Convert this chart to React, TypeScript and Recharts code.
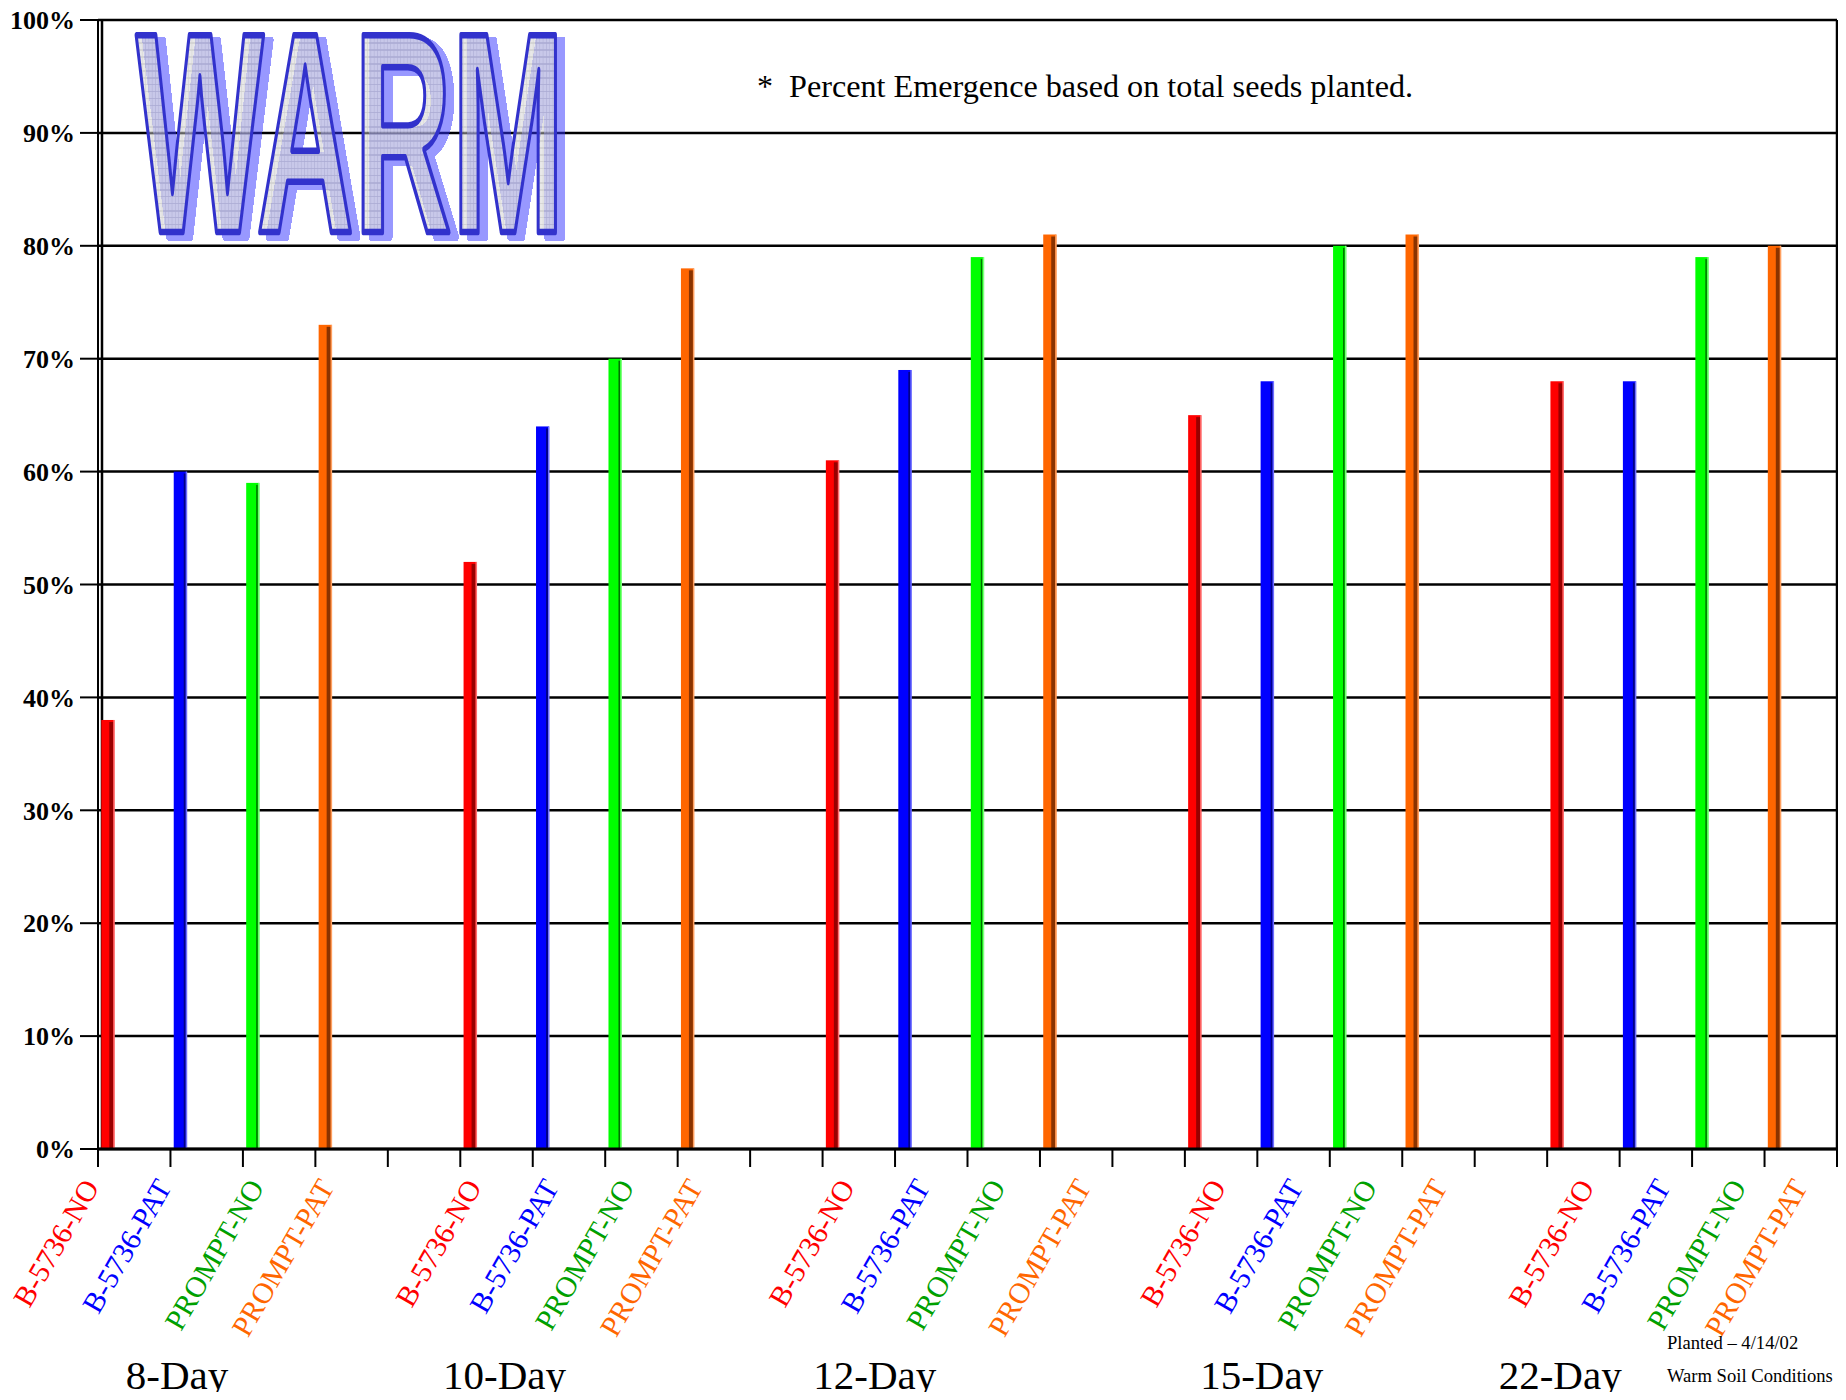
import React from 'react';
import { BarChart, Bar, XAxis, YAxis, CartesianGrid } from 'recharts';

// ---------- data ----------
const days = ['8-Day', '10-Day', '12-Day', '15-Day', '22-Day'];
const varieties = ['B-5736-NO', 'B-5736-PAT', 'PROMPT-NO', 'PROMPT-PAT'];
const b5736No = [38, 52, 61, 65, 68];
const b5736Pat = [60, 64, 69, 68, 68];
const promptNo = [59, 70, 79, 80, 79];
const promptPat = [73, 78, 81, 81, 80];
const yTicks = [0, 10, 20, 30, 40, 50, 60, 70, 80, 90, 100];
const annotation = 'Percent Emergence based on total seeds planted.';
const footPlanted = 'Planted \u2013 4/14/02';
const footSoil = 'Warm Soil Conditions';
const logoText = 'WARM';

const seriesValues = [b5736No, b5736Pat, promptNo, promptPat];
const SLOTS_PER_GROUP = varieties.length + 1;
const TOTAL_SLOTS = days.length * SLOTS_PER_GROUP - 1;
const data = days.flatMap((day, g) =>
  varieties.map((name, i) => ({
    slot: g * SLOTS_PER_GROUP + i,
    day,
    name,
    variety: i,
    value: seriesValues[i][g],
  }))
);
const xTicks = Array.from({ length: TOTAL_SLOTS + 1 }, (_, i) => i);

// ---------- layout / style ----------
const CHART_W = 1830;
const CHART_H = 1400;
const PLOT_LEFT = 90;
const PLOT_TOP = 20;
const PLOT_RIGHT = 1829;
const PLOT_BOTTOM = 1149;
const X_AXIS_H = CHART_H - PLOT_BOTTOM;
const SLOT_W = (PLOT_RIGHT - PLOT_LEFT) / TOTAL_SLOTS;
const TICK_SIZE = 18;
const SERIF = '"Liberation Serif", "DejaVu Serif", serif';

const BAR_STYLE = [
  { main: '#ff0000', dark: '#990000', light: '#ff7070', stripeAt: 8, stripeW: 4, label: '#ff0000' },
  { main: '#0000ff', dark: '#00008a', light: '#7070ff', stripeAt: 10, stripeW: 2, label: '#0000ff' },
  { main: '#00ff00', dark: '#007000', light: '#80ff80', stripeAt: 10, stripeW: 1.5, label: '#00a000' },
  { main: '#ff6600', dark: '#8a3300', light: '#ffa060', stripeAt: 8, stripeW: 4, label: '#ff6600' },
];
const BAR_OFFSET = 3;
const BAR_W = 13;

// end point of each rotated category label, relative to its tick (px)
const LABEL_END_DX = [
  2, 2, 22, 20,
  22, 27, 30, 26,
  33, 36, 39, 52,
  42, 47, 48, 46,
  48, 52, 55, 44,
];
const LABEL_END_DY = 38;
// where the day label is centred, in slot units
const GROUP_LABEL_AT = [1.09, 5.61, 10.72, 16.06, 20.18];
const GROUP_LABEL_DY = 240;

// logo geometry (WordArt-like)
const LOGO_X = 128;
const LOGO_BASE = 232;
const LOGO_FONT = 286;
const LOGO_W = 436;
const LOGO_EM = 3.221; // advance of "WARM" in Liberation Sans Bold, in em
const LOGO_SX = LOGO_W / (LOGO_EM * LOGO_FONT);

const BarShape = (props: any) => {
  const { x, y, width, height, payload } = props;
  if (height == null || height <= 0) return null;
  const st = BAR_STYLE[payload.variety];
  const left = x + width / 2 + BAR_OFFSET;
  return (
    <g>
      <rect x={left} y={y} width={BAR_W} height={height} fill={st.main} />
      <rect x={left + st.stripeAt} y={y + 2} width={st.stripeW} height={height - 2} fill={st.dark} />
      <rect x={left + BAR_W - 1} y={y} width={1.5} height={height} fill={st.light} />
    </g>
  );
};

const XTick = (props: any) => {
  const { x, y, payload } = props;
  const slot = payload.value as number;
  const g = Math.floor(slot / SLOTS_PER_GROUP);
  const i = slot % SLOTS_PER_GROUP;
  const axisY = y - TICK_SIZE;
  const out: React.ReactNode[] = [];
  if (g < days.length && i < varieties.length) {
    const ax = x + LABEL_END_DX[g * varieties.length + i];
    const ay = axisY + LABEL_END_DY;
    out.push(
      <text
        key="l"
        x={ax}
        y={ay}
        transform={`rotate(-60 ${ax} ${ay})`}
        textAnchor="end"
        fill={BAR_STYLE[i].label}
        fontSize={29.5}
        fontFamily={SERIF}
      >
        {varieties[i]}
      </text>
    );
    if (i === 0) {
      out.push(
        <text
          key="g"
          x={x + (GROUP_LABEL_AT[g] - slot) * SLOT_W}
          y={axisY + GROUP_LABEL_DY}
          textAnchor="middle"
          fill="#000"
          fontSize={41}
          fontFamily={SERIF}
        >
          {days[g]}
        </text>
      );
    }
  }
  return <g>{out}</g>;
};

export default function App() {
  return (
    <div
      style={{
        position: 'relative',
        width: CHART_W,
        height: CHART_H,
        marginTop: -8,
        marginBottom: -8,
        background: '#fff',
      }}
    >
      <BarChart
        width={CHART_W}
        height={CHART_H}
        data={data}
        margin={{ top: PLOT_TOP, right: CHART_W - PLOT_RIGHT, bottom: 0, left: 0 }}
        style={{ fontFamily: SERIF }}
      >
        <CartesianGrid
          stroke="#000"
          strokeWidth={2.5}
          horizontal={true}
          vertical={true}
          verticalCoordinatesGenerator={() => [PLOT_LEFT + 4, PLOT_RIGHT]}
        />
        <XAxis
          type="number"
          dataKey="slot"
          domain={[0, TOTAL_SLOTS]}
          ticks={xTicks}
          interval={0}
          height={X_AXIS_H}
          tickSize={TICK_SIZE}
          tickMargin={0}
          axisLine={{ stroke: '#000', strokeWidth: 3 }}
          tickLine={{ stroke: '#000', strokeWidth: 2 }}
          tick={<XTick />}
        />
        <YAxis
          type="number"
          domain={[0, 100]}
          ticks={yTicks}
          interval={0}
          width={PLOT_LEFT}
          tickSize={TICK_SIZE}
          tickMargin={5}
          tickFormatter={(v: number) => `${v}%`}
          axisLine={{ stroke: '#000', strokeWidth: 2 }}
          tickLine={{ stroke: '#000', strokeWidth: 2 }}
          tick={{ fill: '#000', fontSize: 26, fontWeight: 'bold', fontFamily: SERIF }}
        />
        <Bar dataKey="value" barSize={BAR_W} isAnimationActive={false} shape={<BarShape />} />
      </BarChart>
      <svg
        width={CHART_W}
        height={CHART_H}
        style={{ position: 'absolute', left: 0, top: 0, pointerEvents: 'none' }}
      >
        <defs>
          <pattern id="warmGrid" width="7" height="7" patternUnits="userSpaceOnUse">
            <rect width="7" height="7" fill="#d6d6d6" />
            <path d="M6.5 0V7M0 6.5H7" stroke="#aaaaaa" strokeWidth="1" />
          </pattern>
          <filter id="warmShadow" x="-5%" y="-5%" width="115%" height="115%">
            <feComponentTransfer in="SourceAlpha" result="solid">
              <feFuncA type="linear" slope="20" intercept="0" />
            </feComponentTransfer>
            <feOffset in="solid" dx="8" dy="5" result="off" />
            <feFlood floodColor="#3333ff" floodOpacity="0.5" />
            <feComposite in2="off" operator="in" result="sh" />
            <feMerge>
              <feMergeNode in="sh" />
              <feMergeNode in="SourceGraphic" />
            </feMerge>
          </filter>
        </defs>
        <g filter="url(#warmShadow)">
          <text
            transform={`translate(${LOGO_X} ${LOGO_BASE}) scale(${LOGO_SX} 1)`}
            x={0}
            y={0}
            fontFamily='"Liberation Sans", Arial, sans-serif'
            fontWeight="bold"
            fontSize={LOGO_FONT}
            fill="url(#warmGrid)"
            fillOpacity={0.55}
            stroke="#3333cc"
            strokeWidth={3 / LOGO_SX}
            strokeLinejoin="round"
          >
            {logoText}
          </text>
        </g>
        <g fontFamily={SERIF} fill="#000">
          <text x={749} y={97} fontSize={32}>*</text>
          <text x={781} y={97} fontSize={32.2}>{annotation}</text>
          <text x={1659} y={1349} fontSize={18.6}>{footPlanted}</text>
          <text x={1659} y={1382} fontSize={18.6}>{footSoil}</text>
        </g>
      </svg>
    </div>
  );
}
